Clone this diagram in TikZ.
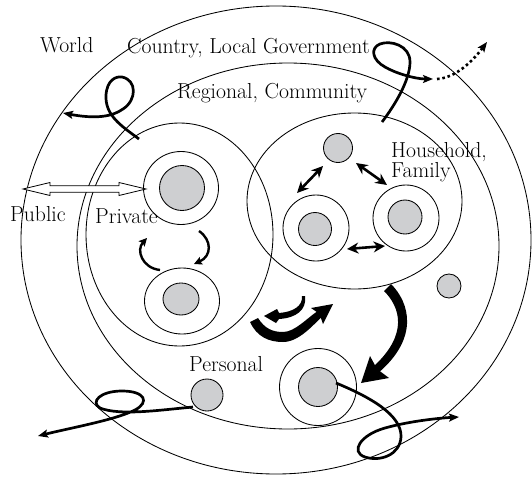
\documentclass[tikz,border=0pt]{standalone}
\usepackage{fontspec}
\usetikzlibrary{arrows.meta}
\definecolor{dotgray}{RGB}{206,207,209}
\tikzset{
  thin line/.style={draw=black, line width=0.85pt},
  graydot/.style={draw=black, fill=dotgray, line width=0.85pt},
  loopline/.style={line width=2.7pt, -{Stealth[length=10pt,width=8pt,inset=2pt]}},
  dblarrow/.style={line width=2.6pt, {Stealth[length=11.5pt,width=11pt]}-{Stealth[length=11.5pt,width=11pt]}},
  curvarrow/.style={line width=2.4pt, -{Stealth[length=8pt,width=8pt,inset=1.5pt]}},
  taper/.style={fill=black, draw=none},
  lbl/.style={font=\fontsize{21.7}{24}\selectfont, inner sep=0pt, anchor=base west},
}
\begin{document}
\begin{tikzpicture}[x=1pt,y=-1pt]
\useasboundingbox (0,0) rectangle (532,476);
% centres
\coordinate (world) at (276,240);
\coordinate (region) at (288,246);
\coordinate (private) at (179.5,234.5);
\coordinate (house) at (354.5,201);
\coordinate (pt) at (181,188);
\coordinate (pb) at (182,301);
\coordinate (ht) at (338,148);
\coordinate (hl) at (316,228);
\coordinate (hr) at (406,218);
\coordinate (sr) at (449,286);
\coordinate (pers) at (207,395);
\coordinate (br) at (318,387);
% big ellipses
\draw[thin line] (world) ellipse [x radius=255, y radius=234];
\draw[thin line] (region) ellipse [x radius=211, y radius=183];
\draw[thin line] (private) ellipse [x radius=93.5, y radius=111.5];
\draw[thin line] (house) ellipse [x radius=107.5, y radius=88];
% rings and dots
\draw[thin line] (pt) ellipse [x radius=37.5, y radius=36.5];
\draw[graydot] (182,188) circle [radius=22.5];
\draw[thin line] (pb) ellipse [x radius=37.5, y radius=33];
\draw[graydot] (181,299) ellipse [x radius=18, y radius=16];
\draw[graydot] (ht) circle [radius=14.5];
\draw[thin line] (hl) circle [radius=33];
\draw[graydot] (315,229) circle [radius=16.5];
\draw[thin line] (hr) circle [radius=33];
\draw[graydot] (405,217) circle [radius=17];
\draw[graydot] (sr) circle [radius=12];
\draw[graydot] (pers) circle [radius=16];
\draw[thin line] (br) circle [radius=38.5];
\draw[graydot] (br) circle [radius=19.5];
% labels
\node[lbl] (tworld) at (40,53) {World};
\node[lbl] (tcountry) at (127,54) {Country, Local Government};
\node[lbl] (tregion) at (177,99) {Regional, Community};
\node[lbl] (thouse) at (391,157) {Household,};
\node[lbl] (tfamily) at (391,177) {Family};
\node[lbl] (tpublic) at (10,221) {Public};
\node[lbl] (tprivate) at (95,223) {Private};
\node[lbl] (tpersonal) at (189,371) {Personal};
% public / private hollow double arrow
\coordinate (pubL) at (23,189);
\coordinate (pubR) at (146,189);
\filldraw[fill=white, draw=black, line width=0.8pt]
  (pubL) -- (50,182.5) -- (50,185.8) -- (119,185.8) -- (119,182.5) -- (pubR)
  -- (119,195.5) -- (119,192.2) -- (50,192.2) -- (50,195.5) -- cycle;
% loops
\coordinate (l1s) at (139,139); \coordinate (l1e) at (63,113);
\draw[loopline] (l1s) .. controls (120,125) and (105,115) .. (106,95)
  .. controls (107,80) and (116,76) .. (122,77)
  .. controls (137,80) and (137,100) .. (123,109)
  .. controls (112,117) and (95,119) .. (l1e);
\coordinate (l2s) at (382,122); \coordinate (l2e) at (433,79);
\draw[loopline] (l2s) .. controls (395,105) and (410,80) .. (410,62)
  .. controls (410,45) and (390,40) .. (380,44)
  .. controls (370,48) and (372,60) .. (385,67)
  .. controls (395,73) and (415,79) .. (l2e);
\coordinate (l2d) at (437,79); \coordinate (l2f) at (487,42);
\draw[line width=2.6pt, dash pattern=on 2.6pt off 2.8pt, -{Stealth[length=10pt,width=8pt,inset=2pt]}]
  (l2d) .. controls (455,78) and (472,62) .. (l2f);
\coordinate (l3s) at (193,407); \coordinate (l3e) at (38,436);
\draw[loopline] (l3s) .. controls (160,410) and (120,416) .. (100,408)
  .. controls (90,402) and (100,391) .. (122,391)
  .. controls (145,391) and (150,402) .. (135,410)
  .. controls (115,420) and (70,428) .. (l3e);
\coordinate (l4s) at (336,383); \coordinate (l4e) at (459,417);
\draw[loopline] (l4s) .. controls (370,397) and (402,415) .. (401,437)
  .. controls (400,455) and (380,462) .. (365,457)
  .. controls (350,452) and (360,435) .. (385,428)
  .. controls (410,421) and (440,418) .. (l4e);
% household double arrows
\coordinate (d1a) at (297,193); \coordinate (d1b) at (323,166);
\coordinate (d2a) at (356,163); \coordinate (d2b) at (387,185);
\coordinate (d3a) at (347,249); \coordinate (d3b) at (385,246);
\draw[dblarrow] (d1a) -- (d1b);
\draw[dblarrow] (d2a) -- (d2b);
\draw[dblarrow] (d3a) -- (d3b);
% private curved arrows
\coordinate (p1s) at (160,270); \coordinate (p1e) at (147,238);
\coordinate (p2s) at (199,231); \coordinate (p2e) at (194,264);
\draw[curvarrow] (p1s) .. controls (142,268) and (136,250) .. (p1e);
\draw[curvarrow] (p2s) .. controls (212,240) and (212,256) .. (p2e);
% tapered arrow: big centre arc
\fill[taper] (250,322) .. controls (257,337) and (269,342) .. (283,342)
  .. controls (299,342) and (313,325) .. (322.3,316.4)
  -- (318.1,310.8)
  .. controls (307,318) and (295,332) .. (283,332)
  .. controls (273,332) and (265,329) .. (258,318) -- cycle;
\fill[taper] (323,324) -- (333,304) -- (311,308) -- (319.4,313.8) -- cycle;
% tapered arrow: small centre arc
\fill[taper] (302,296) .. controls (303,306) and (293,312) .. (279,313)
  -- (277,309) -- (264,316) -- (276,323) -- (279,319)
  .. controls (296,318) and (307,310) .. (305,296) -- cycle;
% tapered arrow: big right arc
\fill[taper] (391,284) .. controls (410,303) and (419,338) .. (378.6,372.6)
  -- (373.4,366.6)
  .. controls (409,334) and (400,307) .. (384,291) -- cycle;
\fill[taper] (389,378) -- (361,383) -- (370,356) -- (377,369) -- cycle;
\end{tikzpicture}
\end{document}
